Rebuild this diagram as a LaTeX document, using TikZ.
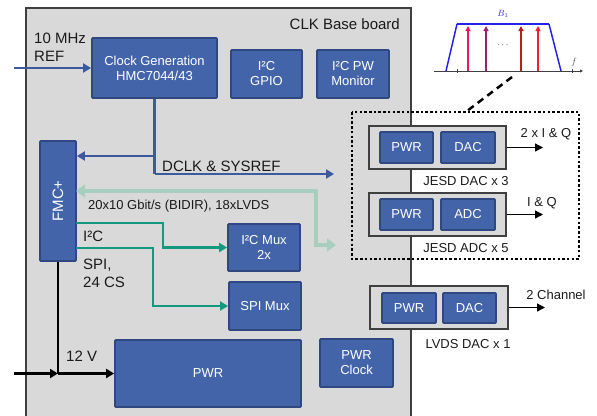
\documentclass[tikz,border=0pt]{standalone}
\usepackage{fontspec}
\setmainfont{Liberation Sans}
\usetikzlibrary{arrows.meta}
\definecolor{boardfill}{HTML}{D9D9D9}
\definecolor{boardline}{HTML}{3F3F3F}
\definecolor{boxfill}{RGB}{68,100,170}
\definecolor{boxline}{RGB}{47,72,128}
\definecolor{arrblue}{RGB}{61,89,160}
\definecolor{teal}{RGB}{20,152,126}
\definecolor{lgreen}{RGB}{168,206,192}
\definecolor{txt}{HTML}{1A1A1A}
\definecolor{specblue}{RGB}{35,35,235}
\definecolor{sp1}{RGB}{232,24,95}
\definecolor{sp2}{RGB}{156,31,106}
\definecolor{sp3}{RGB}{181,32,31}
\definecolor{sp4}{RGB}{238,32,48}
\begin{document}
\begin{tikzpicture}[x=1pt,y=-1pt,
  bbox/.style={draw=boxline, fill=boxfill, line width=1.8pt, rounded corners=1pt, text=white, align=center, font=\fontsize{13}{15}\selectfont, inner sep=0pt},
  gbox/.style={draw=boardline, fill=boardfill, line width=1.3pt, inner sep=0pt},
  lbl/.style={text=txt, font=\fontsize{15}{18}\selectfont, align=left, inner sep=0pt},
  slbl/.style={text=txt, font=\fontsize{13}{15}\selectfont, inner sep=0pt},
  bluearrow/.style={draw=arrblue, line width=2.7pt, -{Triangle[length=8pt,width=9pt]}},
  tealarrow/.style={draw=teal, line width=2.6pt, -{Triangle[length=8pt,width=9pt]}},
  blkarrow/.style={draw=black, line width=2.8pt, -{Triangle[length=8pt,width=9pt]}},
  lgarrow/.style={draw=lgreen, line width=4.5pt, {Triangle[length=9pt,width=13pt]}-{Triangle[length=9pt,width=13pt]}},
  outarrow/.style={draw=black, line width=1.3pt, -{Triangle[length=8pt,width=8pt]}}
]
\useasboundingbox (0,0) rectangle (597,415);
% board
\draw[fill=boardfill, draw=boardline, line width=1.5pt] (26,8) rectangle (411,418);
\node[text=txt, font=\fontsize{15}{18}\selectfont, anchor=east, inner sep=0pt] (title) at (400,24) {CLK Base board};

% blue boxes
\node[bbox, minimum width=125pt, minimum height=60pt] (clk) at (154.5,68) {Clock Generation\\HMC7044/43};
\node[bbox, minimum width=71pt, minimum height=48pt] (gpio) at (266.5,74) {I²C\\GPIO};
\node[bbox, minimum width=72pt, minimum height=48pt] (pwm) at (353,74) {I²C PW\\Monitor};
\node[bbox, minimum width=36pt, minimum height=120pt, font=\fontsize{15}{18}\selectfont] (fmc) at (58,201) {\rotatebox{90}{FMC+}};
\node[bbox, minimum width=72pt, minimum height=47pt] (i2cmux) at (264,247.5) {I²C Mux\\2x};
\node[bbox, minimum width=72pt, minimum height=48pt] (spimux) at (265,306) {SPI Mux};
\node[bbox, minimum width=186pt, minimum height=67pt] (pwr) at (208,373.5) {PWR};
\node[bbox, minimum width=73pt, minimum height=48pt] (pwrclk) at (356.5,363) {PWR\\Clock};

% labels on board
\node[lbl, anchor=west] (ref) at (34,47) {10 MHz\\REF};
\node[lbl, anchor=west] (dclklbl) at (162,166) {DCLK \& SYSREF};
\node[slbl, anchor=west] (gbit) at (88,206) {20x10 Gbit/s (BIDIR), 18xLVDS};
\node[lbl, anchor=west] (i2clbl) at (83,236) {I²C};
\node[lbl, anchor=west] (spilbl) at (83,273.5) {SPI,\\24 CS};
\node[lbl, anchor=west] (v12) at (66,356) {12 V};

% connectors
\coordinate (refin) at (14,68);
\draw[bluearrow] (refin) -- (clk.west);
\coordinate (dj) at (154.5,156);
\coordinate (dc) at (154.5,174);
\coordinate (dend) at (334,174);
\coordinate (fmcd) at (fmc.east |- dj);
\draw[bluearrow, -] (clk.south) -- (dc);
\draw[bluearrow] (dc) -- (dend);
\draw[bluearrow] (dj) -- (fmcd);

\coordinate (g0) at (76,191);
\coordinate (g1) at (316,191);
\coordinate (g2) at (316,245);
\coordinate (g3) at (336,245);
\draw[lgarrow] (g0) -- (g1) -- (g2) -- (g3);

\coordinate (t0) at (76,223);
\coordinate (t1) at (163,223);
\coordinate (t2) at (163,247.5);
\draw[tealarrow] (t0) -- (t1) -- (t2) -- (i2cmux.west);
\coordinate (s0) at (76,248);
\coordinate (s1) at (153,248);
\coordinate (s2) at (153,306);
\draw[tealarrow] (s0) -- (s1) -- (s2) -- (spimux.west);

\coordinate (junc) at (58,373.5);
\coordinate (pin) at (14,373.5);
\draw[draw=black, line width=2.8pt] (fmc.south) -- (junc);
\draw[blkarrow] (pin) -- (junc);
\draw[blkarrow] (junc) -- (pwr.west);

% dotted frame
\draw[line width=2.5pt, dash pattern=on 2.5pt off 2.2pt] (352,112) rectangle (579,259);

% JESD DAC
\node[gbox, minimum width=137pt, minimum height=43pt] (jdac) at (437.5,147.5) {};
\node[bbox, minimum width=53pt, minimum height=31pt] (jdacp) at (406.5,147.5) {PWR};
\node[bbox, minimum width=54pt, minimum height=31pt] (jdacd) at (468,147.5) {DAC};
\node[slbl] (jdaclbl) at (466,181) {JESD DAC x 3};
\coordinate (jdacout) at (543,147.5);
\draw[outarrow] (jdac.east) -- (jdacout);
\node[slbl] (iq2) at (546,134) {2 x I \& Q};

% JESD ADC
\node[gbox, minimum width=137pt, minimum height=43pt] (jadc) at (437.5,214.5) {};
\node[bbox, minimum width=53pt, minimum height=31pt] (jadcp) at (406.5,214.5) {PWR};
\node[bbox, minimum width=54pt, minimum height=31pt] (jadcd) at (468,214.5) {ADC};
\node[slbl] (jadclbl) at (466,248) {JESD ADC x 5};
\coordinate (jadcout) at (543,214.5);
\draw[outarrow] (jadc.east) -- (jadcout);
\node[slbl] (iq1) at (542,203) {I \& Q};

% LVDS DAC
\node[gbox, minimum width=138pt, minimum height=43pt] (lvds) at (439,307.5) {};
\node[bbox, minimum width=54pt, minimum height=30pt] (lvdsp) at (409,308) {PWR};
\node[bbox, minimum width=53pt, minimum height=30pt] (lvdsd) at (469.5,308) {DAC};
\node[slbl] (lvdslbl) at (468,344) {LVDS DAC x 1};
\coordinate (lvdsout) at (545,307.5);
\draw[outarrow] (lvds.east) -- (lvdsout);
\node[slbl] (ch2) at (556,295) {2 Channel};

% spectrum inset
\draw[draw=black!75, line width=0.8pt, -{Triangle[length=3pt,width=3pt]}] (434,71) -- (583,71);
\draw[draw=black!75, line width=0.6pt] (457,69) -- (457,73) (572,69) -- (572,73);
\draw[draw=specblue, line width=1.5pt] (446,71) -- (457,24);
\draw[draw=specblue, line width=1.5pt] (549,24) -- (561,71);
\draw[draw=specblue, line width=2.4pt] (457,24) -- (549,24);
\draw[draw=sp1, line width=1.6pt, -{Triangle[length=5pt,width=5pt]}] (468,71) -- (468,26);
\draw[draw=sp2, line width=1.6pt, -{Triangle[length=5pt,width=5pt]}] (486,71) -- (486,26);
\draw[draw=sp3, line width=1.6pt, -{Triangle[length=5pt,width=5pt]}] (521,71) -- (521,26);
\draw[draw=sp4, line width=1.6pt, -{Triangle[length=5pt,width=5pt]}] (538,71) -- (538,26);
\node[text=specblue, font=\fontsize{9}{10}\selectfont, inner sep=0pt] (b1) at (503,14) {$B_1$};
\node[font=\fontsize{9}{10}\selectfont, inner sep=0pt] (dots) at (503,45) {$\cdots$};
\node[text=black!70, font=\fontsize{9}{10}\selectfont, inner sep=0pt] (flbl) at (574,62) {$f$};
\coordinate (zs) at (512,77);
\coordinate (ze) at (467,111);
\draw[line width=2.5pt, dash pattern=on 7pt off 5pt] (zs) -- (ze);
\end{tikzpicture}
\end{document}
